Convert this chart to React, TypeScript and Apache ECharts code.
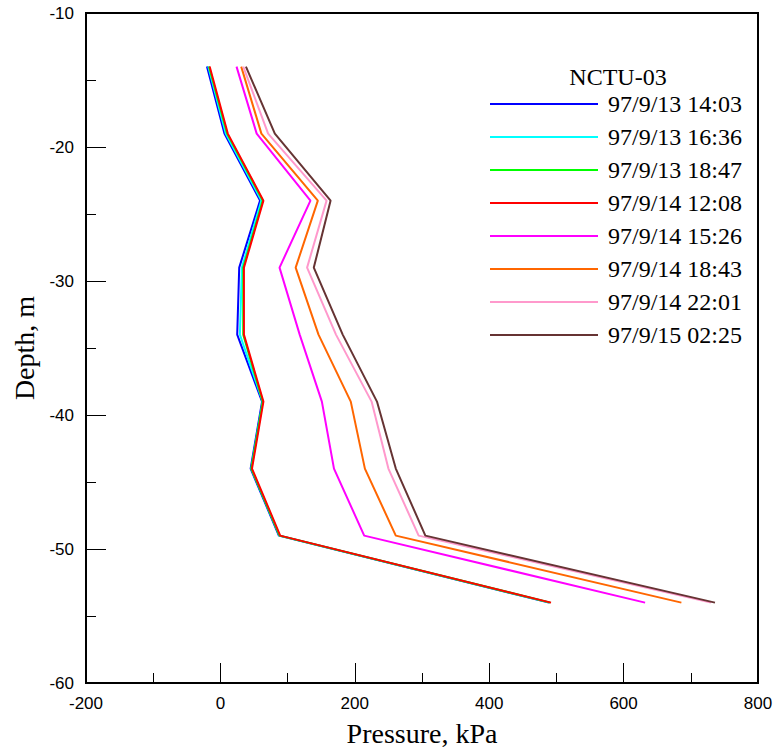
import React, { useEffect, useRef } from "react";
import * as echarts from "echarts";

const depths = [-14, -19, -24, -29, -34, -39, -44, -49, -54];

const seriesNames = [
  "97/9/13 14:03",
  "97/9/13 16:36",
  "97/9/13 18:47",
  "97/9/14 12:08",
  "97/9/14 15:26",
  "97/9/14 18:43",
  "97/9/14 22:01",
  "97/9/15 02:25",
];

const s1 = [-20, 6, 59, 28, 25, 62, 45, 87, 489];
const s2 = [-18, 8, 61, 32, 29, 63, 46, 88, 490];
const s3 = [-17, 10, 63, 34, 34, 63, 46, 88, 491];
const s4 = [-16, 11, 64, 35, 35, 64, 47, 89, 492];
const s5 = [24, 54, 134, 88, 118, 151, 169, 214, 632];
const s6 = [31, 61, 145, 112, 146, 194, 215, 261, 686];
const s7 = [34, 71, 158, 129, 172, 225, 250, 295, 730];
const s8 = [38, 81, 164, 139, 182, 233, 261, 305, 736];

const seriesValues = [s1, s2, s3, s4, s5, s6, s7, s8];
const colors = ["#0000FF", "#00FFFF", "#00FF00", "#FF0000", "#FF00FF", "#FF6600", "#FF99CC", "#663333"];

const xTicks = { min: -200, max: 800, interval: 200 };
const yTicks = { min: -60, max: -10, interval: 10 };

const serif = "Liberation Serif";
const sans = "Liberation Sans";

export default function App() {
  const ref = useRef<HTMLDivElement>(null);
  useEffect(() => {
    document.body.style.margin = "0";
    if (!ref.current) return;
    const chart = echarts.init(ref.current, undefined, { renderer: "svg" });
    chart.setOption({
      animation: false,
      backgroundColor: "#ffffff",
      grid: {
        left: 86,
        top: 13,
        width: 672,
        height: 670,
        show: true,
        borderColor: "#000",
        borderWidth: 2,
        backgroundColor: "transparent",
        outerBoundsMode: "none",
        containLabel: false,
      },
      xAxis: {
        type: "value",
        min: xTicks.min,
        max: xTicks.max,
        interval: xTicks.interval,
        position: "bottom",
        axisLine: { show: true, onZero: false, lineStyle: { color: "#000", width: 2 } },
        axisTick: { show: true, inside: true, length: 20, lineStyle: { color: "#000", width: 1 } },
        minorTick: { show: true, splitNumber: 2, length: 10, lineStyle: { color: "#000", width: 1 } },
        splitLine: { show: false },
        axisLabel: { color: "#000", fontSize: 17, fontFamily: sans, margin: 12 },
        name: "Pressure, kPa",
        nameLocation: "middle",
        nameGap: 36,
        nameTextStyle: { color: "#000", fontSize: 28, fontFamily: serif },
      },
      yAxis: {
        type: "value",
        min: yTicks.min,
        max: yTicks.max,
        interval: yTicks.interval,
        position: "left",
        axisLine: { show: true, onZero: false, lineStyle: { color: "#000", width: 2 } },
        axisTick: { show: true, inside: true, length: 20, lineStyle: { color: "#000", width: 1 } },
        minorTick: { show: true, splitNumber: 2, length: 10, lineStyle: { color: "#000", width: 1 } },
        splitLine: { show: false },
        axisLabel: { color: "#000", fontSize: 17, fontFamily: sans, margin: 12 },
        name: "Depth, m",
        nameLocation: "middle",
        nameGap: 44,
        nameTextStyle: { color: "#000", fontSize: 28, fontFamily: serif },
      },
      legend: {
        orient: "vertical",
        left: 485,
        top: 87,
        itemWidth: 108,
        itemHeight: 14,
        itemGap: 9,
        data: seriesNames.map((n) => ({
          name: n,
          icon: "path://M0,6 L108,6 L108,8 L0,8 Z",
        })),
        textStyle: { color: "#000", fontSize: 24, fontFamily: serif, padding: [0, 0, 0, 5] },
      },
      graphic: [
        {
          type: "text",
          x: 618,
          y: 77,
          style: {
            text: "NCTU-03",
            fontSize: 24,
            fontFamily: serif,
            fill: "#000",
            align: "center",
            verticalAlign: "middle",
          },
        },
      ],
      series: seriesValues.map((vals, i) => ({
        name: seriesNames[i],
        type: "line",
        data: vals.map((v, j) => [v, depths[j]]),
        symbol: "none",
        color: colors[i],
        lineStyle: { color: colors[i], width: 2 },
        z: 2 + i,
      })),
    });
    return () => chart.dispose();
  }, []);
  return <div ref={ref} style={{ width: 777, height: 751 }} />;
}
